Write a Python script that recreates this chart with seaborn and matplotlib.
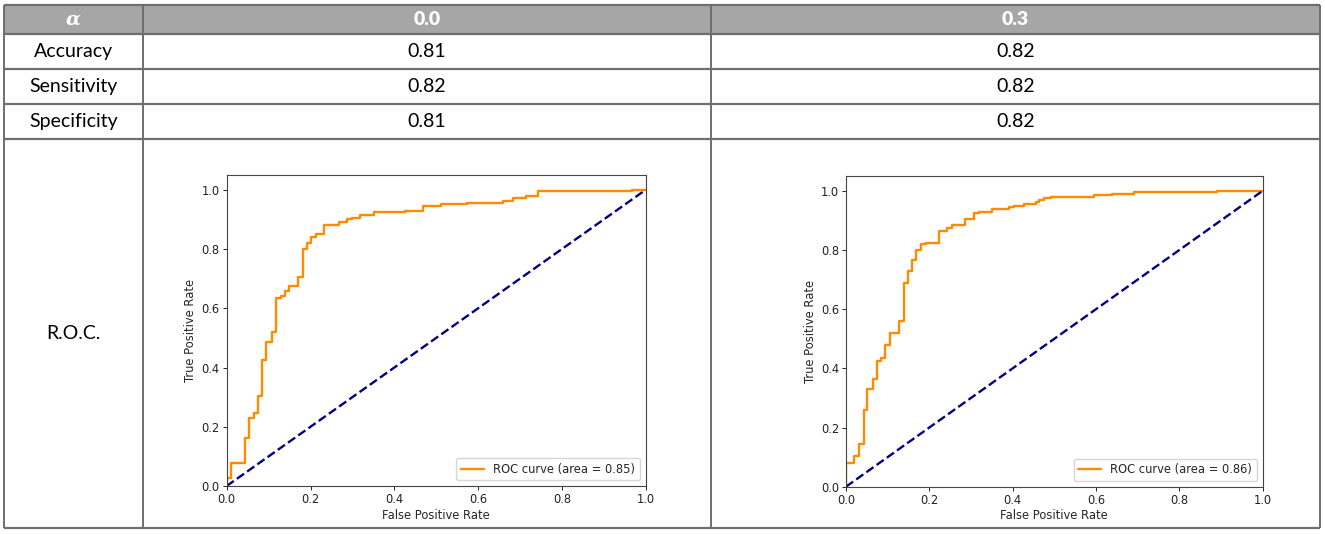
import numpy as np
import pandas as pd
import matplotlib.pyplot as plt
import matplotlib.patches as patches
import seaborn as sns

# table contents
alphas = ['0.0', '0.3']
metric_names = ['Accuracy', 'Sensitivity', 'Specificity']
metric_vals = {'0.0': [0.81, 0.82, 0.81], '0.3': [0.82, 0.82, 0.82]}
auc = {'0.0': 0.85, '0.3': 0.86}

# ROC corner points (fpr, tpr), drawn as steps
fpr_00 = [0.0, 0.0, 0.010, 0.044, 0.053, 0.065, 0.074, 0.084, 0.094, 0.107, 0.117,
          0.129, 0.138, 0.148, 0.169, 0.181, 0.192, 0.201, 0.212, 0.232, 0.267,
          0.286, 0.298, 0.318, 0.352, 0.426, 0.468, 0.511, 0.573, 0.659, 0.683,
          0.714, 0.744, 0.968, 1.0]
tpr_00 = [0.0, 0.026, 0.079, 0.163, 0.228, 0.245, 0.305, 0.425, 0.485, 0.520, 0.635,
          0.640, 0.660, 0.675, 0.705, 0.800, 0.820, 0.840, 0.850, 0.880, 0.890,
          0.900, 0.905, 0.915, 0.925, 0.930, 0.945, 0.952, 0.955, 0.962, 0.972,
          0.978, 0.995, 1.0, 1.0]
fpr_03 = [0.0, 0.0, 0.019, 0.030, 0.042, 0.051, 0.064, 0.074, 0.084, 0.094, 0.106,
          0.126, 0.138, 0.148, 0.158, 0.169, 0.180, 0.191, 0.222, 0.242, 0.254,
          0.285, 0.307, 0.318, 0.350, 0.392, 0.404, 0.426, 0.456, 0.464, 0.476,
          0.491, 0.594, 0.638, 0.691, 0.891, 1.0]
tpr_03 = [0.0, 0.079, 0.105, 0.145, 0.260, 0.330, 0.365, 0.425, 0.435, 0.480, 0.520,
          0.560, 0.690, 0.730, 0.765, 0.800, 0.820, 0.825, 0.865, 0.875, 0.885,
          0.905, 0.925, 0.930, 0.937, 0.945, 0.950, 0.955, 0.962, 0.968, 0.975,
          0.980, 0.985, 0.990, 0.995, 1.0, 1.0]
roc = {'0.0': (fpr_00, tpr_00), '0.3': (fpr_03, tpr_03)}

sns.set_style('white')
plt.rcParams['font.family'] = ['DejaVu Sans']
table_font = ['Lato', 'DejaVu Sans']

W, H = 1325, 534
fig = plt.figure(figsize=(W / 100, H / 100), dpi=100)

# table layer in pixel coordinates
bg = fig.add_axes([0, 0, 1, 1])
bg.set_xlim(0, W)
bg.set_ylim(H, 0)
bg.axis('off')

x_cols = [4, 143, 711, 1320]
y_rows = [5, 34, 69, 104, 139, 528]
bg.add_patch(patches.Rectangle((x_cols[0], y_rows[0]), x_cols[-1] - x_cols[0],
                               y_rows[1] - y_rows[0], facecolor='#a6a6a6', edgecolor='none'))
for y in y_rows:
    bg.plot([x_cols[0], x_cols[-1]], [y, y], color='#6e6e6e', lw=1.6, solid_capstyle='butt')
for x in x_cols:
    bg.plot([x, x], [y_rows[0], y_rows[-1]], color='#6e6e6e', lw=1.4, solid_capstyle='butt')

col_c = [(x_cols[i] + x_cols[i + 1]) / 2 for i in range(3)]
row_c = [(y_rows[i] + y_rows[i + 1]) / 2 for i in range(5)]

bg.text(col_c[0], row_c[0], 'α', color='white', fontsize=14, fontweight='bold',
        fontstyle='italic', family='DejaVu Serif', ha='center', va='center')
for j, a in enumerate(alphas):
    bg.text(col_c[j + 1], row_c[0], a, color='white', fontsize=14, fontweight='heavy',
            family=table_font, ha='center', va='center')
for i, name in enumerate(metric_names):
    bg.text(col_c[0], row_c[i + 1], name, color='black', fontsize=14,
            family=table_font, ha='center', va='center')
    for j, a in enumerate(alphas):
        bg.text(col_c[j + 1], row_c[i + 1], f'{metric_vals[a][i]:.2f}', color='black',
                fontsize=14, family=table_font, ha='center', va='center')
bg.text(col_c[0], row_c[4], 'R.O.C.', color='black', fontsize=14, family=table_font,
        ha='center', va='center')

# ROC plots
boxes = {'0.0': (226.7, 175, 645.7, 486), '0.3': (846, 176, 1262.7, 486.7)}
fs = 8.3
for a in alphas:
    l, t, r, b = boxes[a]
    ax = fig.add_axes([l / W, (H - b) / H, (r - l) / W, (b - t) / H])
    fpr, tpr = roc[a]
    df = pd.DataFrame({'fpr': fpr, 'tpr': tpr})
    sns.lineplot(data=df, x='fpr', y='tpr', ax=ax, color='darkorange', lw=1.7,
                 sort=False, estimator=None, drawstyle='steps-post',
                 label=f'ROC curve (area = {auc[a]:.2f})')
    diag = pd.DataFrame({'x': [0, 1], 'y': [0, 1]})
    sns.lineplot(data=diag, x='x', y='y', ax=ax, color='navy', lw=1.7,
                 linestyle='--', estimator=None)
    ax.set_xlim(0.0, 1.0)
    ax.set_ylim(0.0, 1.05)
    ax.set_xticks(np.arange(0, 1.01, 0.2))
    ax.set_yticks(np.arange(0, 1.01, 0.2))
    ax.set_xlabel('False Positive Rate', fontsize=fs, labelpad=2)
    ax.set_ylabel('True Positive Rate', fontsize=fs, labelpad=3)
    ax.tick_params(axis='both', labelsize=fs, length=3, width=0.7, direction='out',
                   bottom=True, left=True, pad=2, colors='#222222')
    for s in ax.spines.values():
        s.set_color('#444444')
        s.set_linewidth(0.8)
    ax.legend(loc='lower right', fontsize=fs, frameon=True, framealpha=0.8,
              edgecolor='#cccccc', fancybox=True)

fig.savefig('out.png', dpi=100)
